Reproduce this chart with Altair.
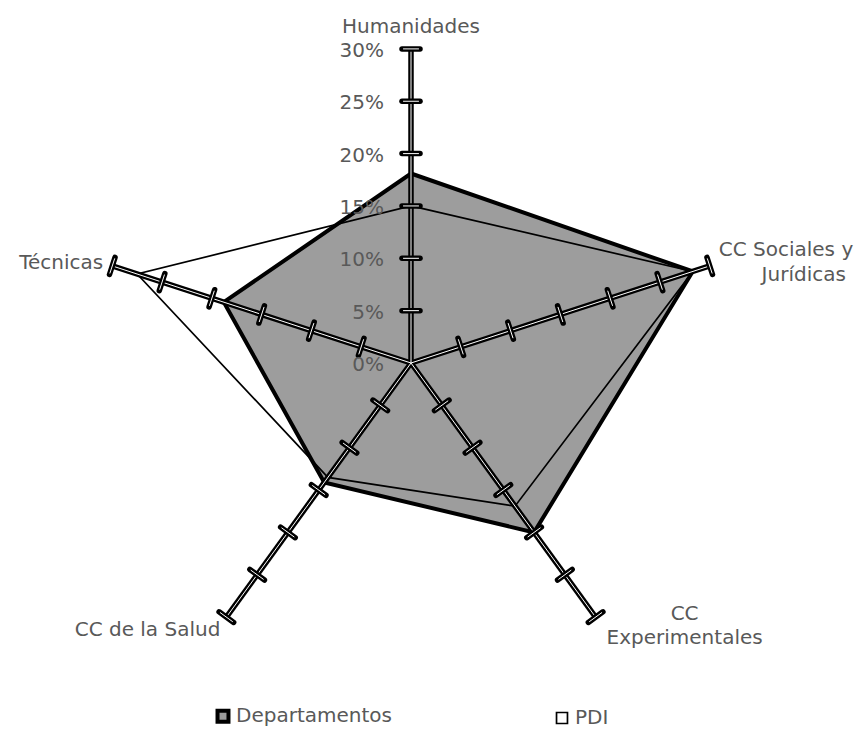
import altair as alt
import pandas as pd

# ---- data ----
categories = ["Humanidades", "CC Sociales y Jurídicas", "CC Experimentales", "CC de la Salud", "Técnicas"]
departamentos = [18.1, 28.3, 20.0, 14.1, 18.8]
pdi = [15.0, 28.3, 16.9, 13.5, 27.5]
series_names = ["Departamentos", "PDI"]
tick_values = [0, 5, 10, 15, 20, 25, 30]
tick_labels = ["0%", "5%", "10%", "15%", "20%", "25%", "30%"]
axis_max = 30

FONT = "DejaVu Sans"
TXT = "#595959"
FS = 20

# category angles (first at top, clockwise)
angles = [90 - 72 * i for i in range(len(categories))]

rows = []
for name, vals in zip(series_names, [departamentos, pdi]):
    for i, (c, v) in enumerate(zip(categories, vals)):
        rows.append({"series": name, "category": c, "idx": i, "angle": angles[i], "value": v})
poly_df = pd.DataFrame(rows)

spoke_df = pd.DataFrame({"category": categories, "angle": angles, "value": [axis_max] * len(categories)})

tick_rows = []
for i, c in enumerate(categories):
    for t in tick_values[1:]:
        tick_rows.append({"category": c, "angle": angles[i], "value": t})
tick_df = pd.DataFrame(tick_rows)

label_df = pd.DataFrame({"value": tick_values, "label": tick_labels})

# ---- scales: equal pixel per unit on both axes ----
PX = 10.47
W, H = 846, 721
CX, CY = 403, 355
xs = alt.Scale(domain=[-CX / PX, (W - CX) / PX], nice=False, zero=False)
ys = alt.Scale(domain=[-(H - CY) / PX, CY / PX], nice=False, zero=False)

def X(f):
    return alt.X(f, type="quantitative", scale=xs, axis=None)

def Y(f):
    return alt.Y(f, type="quantitative", scale=ys, axis=None)

polar = dict(px="datum.value*cos(datum.angle*PI/180)", py="datum.value*sin(datum.angle*PI/180)")

polys = alt.Chart(poly_df).transform_calculate(**polar).mark_line(
    interpolate="linear-closed", stroke="black", strokeJoin="miter"
).encode(
    x=X("px"), y=Y("py"),
    order=alt.Order("idx:Q"),
    fill=alt.Fill("series:N", scale=alt.Scale(domain=series_names, range=["#9d9d9d", "transparent"]),
                  legend=alt.Legend(title=None, orient="none", direction="horizontal",
                                    legendX=205, legendY=698, symbolType="square", symbolSize=120,
                                    symbolStrokeColor="black", symbolStrokeWidth=2.5,
                                    labelFont=FONT, labelFontSize=FS, labelColor=TXT,
                                    labelOffset=3, columnPadding=160, padding=0)),
    strokeWidth=alt.StrokeWidth("series:N", scale=alt.Scale(domain=series_names, range=[4, 1.7]), legend=None),
)

spoke_base = alt.Chart(spoke_df).transform_calculate(
    zero="0", **polar
).encode(x=X("zero"), y=Y("zero"), x2="px:Q", y2="py:Q")
spoke_black = spoke_base.mark_rule(color="black", strokeWidth=5.5)
spoke_white = spoke_base.mark_rule(color="white", strokeWidth=1.0)

H1 = 0.86
H2 = 0.72
tick_base = alt.Chart(tick_df).transform_calculate(
    cx="datum.value*cos(datum.angle*PI/180)", cy="datum.value*sin(datum.angle*PI/180)",
    sn="sin(datum.angle*PI/180)", cs="cos(datum.angle*PI/180)"
)
tick_black = tick_base.transform_calculate(
    x1=f"datum.cx + {H1}*datum.sn", x2=f"datum.cx - {H1}*datum.sn",
    y1=f"datum.cy - {H1}*datum.cs", y2=f"datum.cy + {H1}*datum.cs",
).mark_rule(color="black", strokeWidth=5.5, strokeCap="round").encode(
    x=X("x1"), x2="x2:Q", y=Y("y1"), y2="y2:Q")
tick_white = tick_base.transform_calculate(
    x1=f"datum.cx + {H2}*datum.sn", x2=f"datum.cx - {H2}*datum.sn",
    y1=f"datum.cy - {H2}*datum.cs", y2=f"datum.cy + {H2}*datum.cs",
).mark_rule(color="white", strokeWidth=1.0, strokeCap="round").encode(
    x=X("x1"), x2="x2:Q", y=Y("y1"), y2="y2:Q")

tick_text = alt.Chart(label_df).transform_calculate(zero="0").mark_text(
    align="right", baseline="middle", dx=-27, dy=2, font=FONT, fontSize=FS, color=TXT
).encode(x=X("zero"), y=Y("value"), text="label:N")

def cat_label(cat, text, align, dx, dy):
    return alt.Chart(spoke_df).transform_filter(
        alt.datum.category == cat
    ).transform_calculate(**polar, txt=f"'{text}'").mark_text(
        align=align, baseline="middle", dx=dx, dy=dy, font=FONT, fontSize=FS, color=TXT
    ).encode(x=X("px"), y=Y("py"), text="txt:N")

cat_labels = [
    cat_label(categories[0], "Humanidades", "center", 0, -22),
    cat_label(categories[1], "CC Sociales y", "left", 9, -16),
    cat_label(categories[1], "Jurídicas", "center", 94, 9),
    cat_label(categories[2], "CC", "center", 89, -3),
    cat_label(categories[2], "Experimentales", "center", 89, 21),
    cat_label(categories[3], "CC de la Salud", "right", -6, 13),
    cat_label(categories[4], "Técnicas", "right", -9, -3),
]

chart = alt.layer(
    polys, spoke_black, spoke_white, tick_black, tick_white, tick_text, *cat_labels
).properties(
    width=W, height=H, padding=0,
    autosize=alt.AutoSizeParams(type="none"),
).configure_view(stroke=None)

chart.save("out.html", embed_options={"renderer": "svg", "actions": False})
